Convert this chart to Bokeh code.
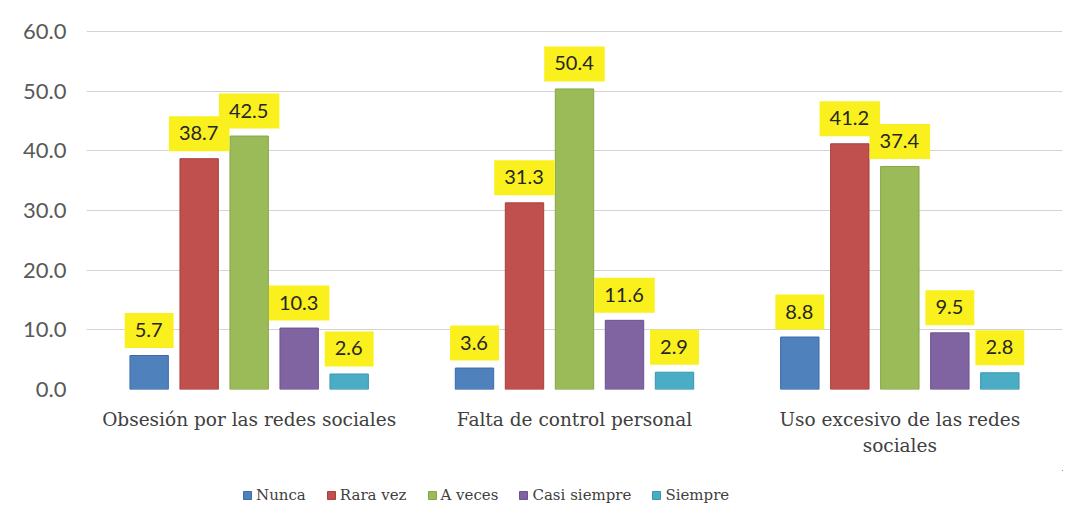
from bokeh.plotting import figure
from bokeh.layouts import column
from bokeh.models import (ColumnDataSource, Range1d, Legend, LegendItem,
                          NumeralTickFormatter, FixedTicker, LinearAxis)
from bokeh.transform import dodge
from bokeh.core.properties import value
from bokeh.embed import file_html
from bokeh.resources import INLINE

categories = ["Obsesión por las redes sociales", "Falta de control personal", "Uso excesivo de las redes sociales"]
label_line1 = ["Obsesión por las redes sociales", "Falta de control personal", "Uso excesivo de las redes"]
label_line2 = ["", "", "sociales"]
series_names = ["Nunca", "Rara vez", "A veces", "Casi siempre", "Siempre"]
nunca = [5.7, 3.6, 8.8]
rara_vez = [38.7, 31.3, 41.2]
a_veces = [42.5, 50.4, 37.4]
casi_siempre = [10.3, 11.6, 9.5]
siempre = [2.6, 2.9, 2.8]
y_ticks = [0, 10, 20, 30, 40, 50, 60]

series = [nunca, rara_vez, a_veces, casi_siempre, siempre]
fills = ["#4F81BD", "#C0504D", "#9BBB59", "#8064A2", "#4BACC6"]
lines = ["#3A6BA8", "#A83F3C", "#86A548", "#6B5290", "#3A97B0"]
cat_index = list(range(len(categories)))

p = figure(x_range=Range1d(-0.5, len(categories) - 0.5),
           y_range=Range1d(0, 60.2), width=1072, height=470,
           output_backend="svg", toolbar_location=None, x_axis_location=None,
           min_border_left=86, min_border_right=10, min_border_top=30, min_border_bottom=81)
p.outline_line_color = None
p.background_fill_color = "white"
p.border_fill_color = "white"

p.xgrid.grid_line_color = None
p.ygrid.grid_line_color = "#D4D4D4"
p.ygrid.grid_line_width = 1.2

p.yaxis.ticker = FixedTicker(ticks=y_ticks)
p.yaxis.formatter = NumeralTickFormatter(format="0.0")
p.yaxis.axis_line_color = None
p.yaxis.major_tick_line_color = None
p.yaxis.minor_tick_line_color = None
p.yaxis.major_label_text_font = "Lato"
p.yaxis.major_label_text_font_size = "22px"
p.yaxis.major_label_text_color = "#595959"
p.yaxis.major_label_standoff = 14


def make_xaxis(labels, standoff):
    ax = LinearAxis(ticker=FixedTicker(ticks=cat_index, minor_ticks=[]))
    ax.axis_line_color = None
    ax.major_tick_line_color = None
    ax.minor_tick_line_color = None
    ax.major_label_text_font = "DejaVu Serif"
    ax.major_label_text_font_size = "18.5px"
    ax.major_label_text_color = "#404040"
    ax.major_label_standoff = standoff
    ax.major_label_overrides = {i: t for i, t in zip(cat_index, labels)}
    return ax


p.add_layout(make_xaxis(label_line1, 13), "below")
p.add_layout(make_xaxis(label_line2, -4), "below")

step = 0.1537
bw = 0.118
srcs = []
for i, vals in enumerate(series):
    src = ColumnDataSource(dict(xi=cat_index, cat=categories, val=vals,
                                lbl=[f"{v:.1f}" for v in vals]))
    srcs.append(src)
    off = (i - 2) * step
    p.vbar(x=dodge("xi", off), top="val", width=bw, source=src,
           fill_color=fills[i], line_color=lines[i], line_width=1)

for i, src in enumerate(srcs):
    off = (i - 2) * step
    p.text(x=dodge("xi", off), y="val", text="lbl", source=src,
           text_align="center", text_baseline="middle", y_offset=-25,
           text_font=value("Lato"), text_font_size="20px", text_color="#262626",
           background_fill_color="#FAF01E", padding=(10, 11, 10, 11))

# legend strip below the chart (its swatch glyphs lie outside the strip's visible ranges)
lf = figure(width=1072, height=50, output_backend="svg", toolbar_location=None,
            x_range=Range1d(0, 1), y_range=Range1d(0, 1),
            min_border=0, min_border_left=0, min_border_right=0,
            min_border_top=0, min_border_bottom=0,
            x_axis_location=None, y_axis_location=None)
lf.outline_line_color = None
lf.grid.grid_line_color = None
items = []
for i, name in enumerate(series_names):
    r = lf.vbar(x=[100], top=[100], bottom=[99], width=0.1,
                fill_color=fills[i], line_color=lines[i])
    items.append(LegendItem(label=name, renderers=[r]))
legend = Legend(items=items, orientation="horizontal", location=(156, 16),
                glyph_width=10, glyph_height=10, label_standoff=4, spacing=20,
                padding=0, margin=0, border_line_color=None, background_fill_alpha=0,
                label_text_font="DejaVu Serif", label_text_font_size="15px",
                label_text_color="#404040", label_height=12)
lf.add_layout(legend, "center")

layout = column(p, lf, spacing=0)
open("out.html", "w").write(file_html(layout, INLINE))
